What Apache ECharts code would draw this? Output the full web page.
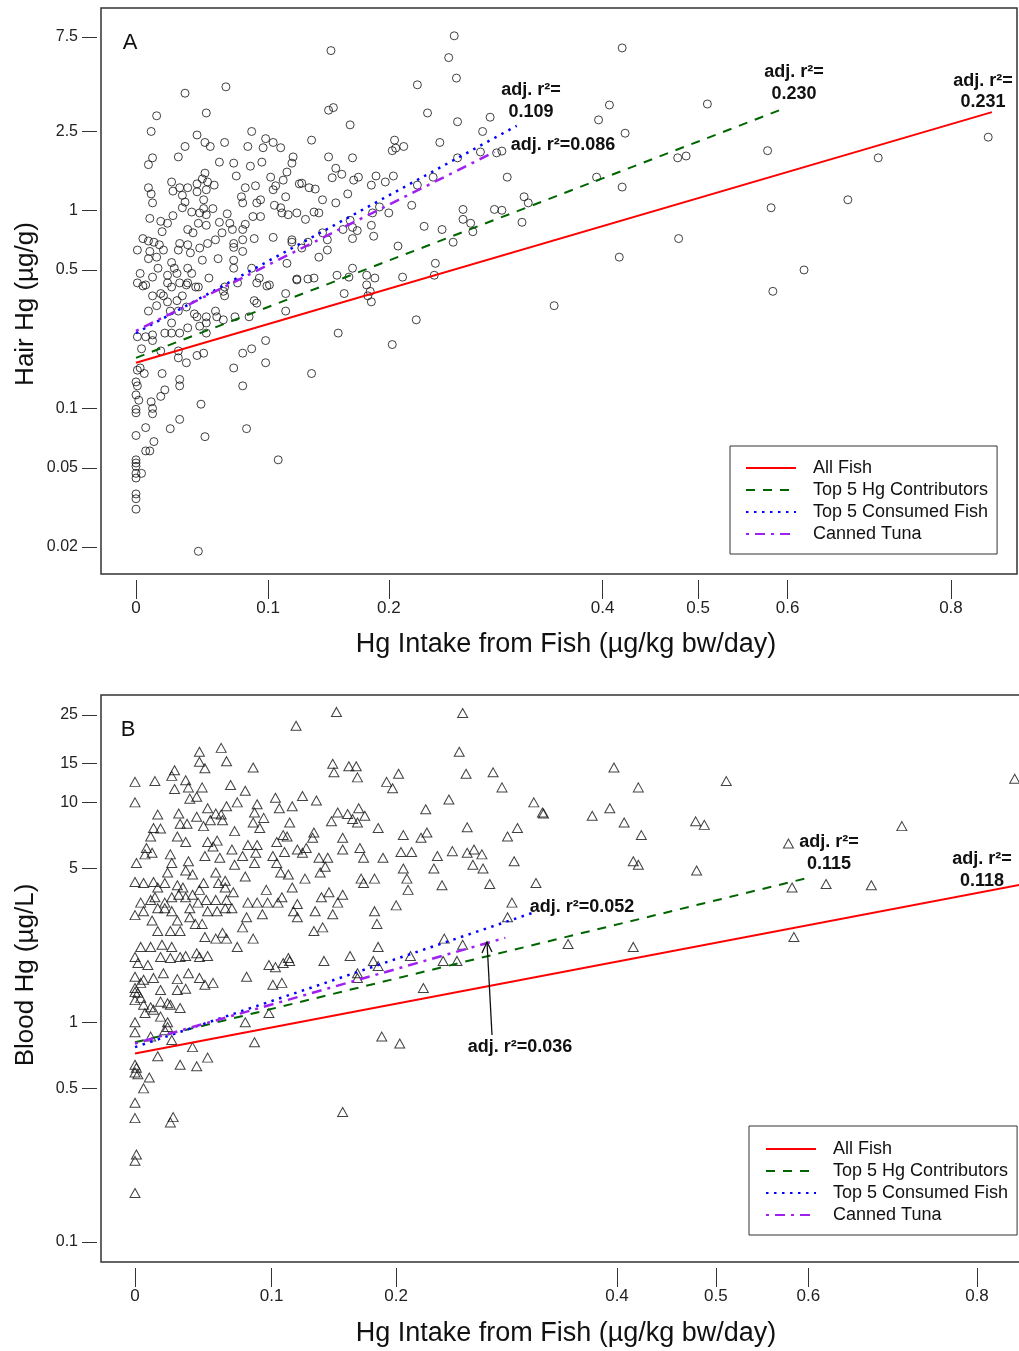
<!DOCTYPE html>
<html>
<head>
<meta charset="utf-8">
<title>Hg intake from fish vs hair and blood Hg</title>
<script src="https://cdn.jsdelivr.net/npm/echarts@6/dist/echarts.min.js"></script>
<style>
  html, body { margin: 0; padding: 0; background: #fff; }
  #chart { width: 1019px; height: 1351px; }
</style>
</head>
<body>
<div id="chart"></div>
<script>
// tick labels
var intakeTicks = [0, 0.1, 0.2, 0.4, 0.5, 0.6, 0.8];
var hairTicks = [0.02, 0.05, 0.1, 0.5, 1, 2.5, 7.5];
var bloodTicks = [0.1, 0.5, 1, 5, 10, 15, 25];

var fitNames = ['All Fish', 'Top 5 Hg Contributors', 'Top 5 Consumed Fish', 'Canned Tuna'];

// panel A: [Hg intake (ug/kg bw/day), hair Hg (ug/g)]
var hairPoints = [
  [0.067,4.2],[0.036,3.9],[0.052,3.1],[0.015,3.0],[0.011,2.5],[0.087,2.5],[0.045,2.4],[0.051,2.2],[0.055,2.1],[0.066,2.2],
  [0.036,2.1],[0.031,1.86],[0.084,2.1],[0.098,2.3],[0.104,2.2],[0.096,2.07],[0.110,2.07],[0.009,1.7],[0.012,1.84],[0.062,1.75],
  [0.073,1.73],[0.075,1.49],[0.086,1.67],[0.095,1.75],[0.120,1.86],[0.119,1.73],[0.115,1.56],[0.102,1.47],[0.051,1.54],[0.049,1.44],
  [0.053,1.39],[0.045,1.36],[0.026,1.39],[0.009,1.30],[0.011,1.21],[0.012,1.09],[0.027,1.25],[0.032,1.30],[0.038,1.30],[0.034,1.19],
  [0.036,1.10],[0.045,1.24],[0.052,1.27],[0.058,1.34],[0.050,1.13],[0.082,1.30],[0.090,1.33],[0.079,1.17],[0.080,1.09],[0.094,1.13],
  [0.091,1.09],[0.104,1.27],[0.106,1.33],[0.112,1.42],[0.114,1.17],[0.105,1.06],[0.110,1.03],[0.125,1.36],[0.010,0.91],[0.018,0.88],
  [0.023,0.86],[0.027,0.94],[0.034,1.03],[0.041,0.98],[0.047,0.97],[0.052,0.95],[0.057,1.02],[0.050,1.02],[0.019,0.78],[0.038,0.80],
  [0.042,0.77],[0.046,0.86],[0.052,0.84],[0.062,0.87],[0.068,0.96],[0.070,0.86],[0.064,0.77],[0.072,0.80],[0.082,0.85],[0.088,0.93],
  [0.094,0.93],[0.080,0.80],[0.111,0.97],[0.116,0.95],[0.104,0.73],[0.119,0.69],[0.005,0.72],[0.009,0.70],[0.013,0.69],[0.017,0.67],
  [0.020,0.63],[0.001,0.63],[0.010,0.62],[0.015,0.58],[0.009,0.57],[0.032,0.68],[0.038,0.67],[0.031,0.63],[0.040,0.61],[0.047,0.645],
  [0.053,0.68],[0.059,0.71],[0.073,0.68],[0.080,0.71],[0.089,0.72],[0.073,0.65],[0.080,0.62],[0.049,0.56],[0.061,0.57],[0.073,0.56],
  [0.073,0.51],[0.026,0.545],[0.016,0.51],[0.028,0.51],[0.038,0.51],[0.003,0.48],[0.012,0.46],[0.023,0.47],[0.030,0.48],[0.041,0.48],
  [0.001,0.43],[0.005,0.415],[0.023,0.43],[0.026,0.41],[0.032,0.43],[0.038,0.43],[0.046,0.41],[0.054,0.455],[0.066,0.41],[0.087,0.51],
  [0.093,0.455],[0.101,0.42],[0.115,0.54],[0.123,0.445],[0.012,0.37],[0.020,0.37],[0.034,0.37],[0.065,0.39],[0.114,0.38],
  [0.007,0.42],[0.018,0.38],[0.037,0.42],[0.044,0.41],[0.015,0.33],[0.023,0.345],[0.030,0.35],[0.009,0.31],[0.025,0.31],[0.026,0.27],
  [0.031,0.31],[0.037,0.325],[0.043,0.30],[0.045,0.29],[0.047,0.26],[0.052,0.29],[0.052,0.27],[0.059,0.31],[0.060,0.29],[0.065,0.28],
  [0.066,0.37],[0.074,0.29],[0.076,0.43],[0.091,0.43],[0.099,0.415],[0.089,0.35],[0.091,0.34],[0.114,0.31],[0.085,0.29],[0.038,0.255],
  [0.052,0.24],[0.001,0.23],[0.007,0.23],[0.012,0.235],[0.012,0.22],[0.021,0.24],[0.026,0.24],[0.032,0.24],[0.004,0.20],[0.018,0.195],
  [0.031,0.195],[0.031,0.18],[0.037,0.17],[0.045,0.185],[0.050,0.19],[0.080,0.19],[0.087,0.20],[0.098,0.22],[0.098,0.17],[0.073,0.16],
  [0.001,0.156],[0.003,0.16],[0.006,0.15],[0.019,0.15],[0,0.136],[0.001,0.13],[0.032,0.14],[0.032,0.13],[0.021,0.124],[0.018,0.115],
  [0,0.117],[0.002,0.11],[0.011,0.108],[0.012,0.10],[0,0.095],[0,0.099],[0.012,0.094],[0.048,0.105],[0.080,0.13],[0.032,0.088],
  [0.007,0.080],[0.025,0.079],[0.083,0.079],[0,0.073],[0.013,0.068],[0.051,0.072],[0.007,0.061],[0.010,0.061],[0,0.055],[0,0.053],
  [0,0.051],[0.004,0.047],[0,0.047],[0.108,0.055],[0,0.0445],[0,0.037],[0,0.035],[0,0.031],[0.046,0.019],
  [0.258,7.6],[0.151,6.4],[0.253,5.9],[0.260,4.65],[0.225,4.3],[0.149,3.2],[0.153,3.3],[0.234,3.1],[0.167,2.7],[0.261,2.8],
  [0.291,2.95],[0.284,2.5],[0.135,2.26],[0.149,1.86],[0.169,1.84],[0.205,2.26],[0.203,2.0],[0.206,2.06],[0.213,2.1],[0.245,2.2],
  [0.261,1.84],[0.282,1.97],[0.297,1.95],[0.302,1.99],[0.155,1.63],[0.152,1.46],[0.160,1.52],[0.174,1.47],[0.170,1.42],[0.189,1.49],
  [0.185,1.34],[0.197,1.39],[0.204,1.49],[0.225,1.34],[0.239,1.47],[0.127,1.37],[0.133,1.30],[0.138,1.28],[0.144,1.13],[0.155,1.09],
  [0.165,1.21],[0.307,1.47],[0.123,0.97],[0.130,0.90],[0.137,0.98],[0.141,0.97],[0.186,0.97],[0.192,1.04],[0.200,0.97],[0.220,1.06],
  [0.266,1.01],[0.295,1.01],[0.302,1.0],[0.323,1.17],[0.327,1.09],[0.321,0.87],[0.167,0.89],[0.169,0.82],[0.173,0.79],[0.185,0.84],
  [0.187,0.74],[0.169,0.72],[0.161,0.80],[0.144,0.77],[0.148,0.71],[0.132,0.69],[0.127,0.645],[0.141,0.58],[0.148,0.63],[0.119,0.71],
  [0.231,0.83],[0.247,0.80],[0.266,0.90],[0.273,0.86],[0.275,0.78],[0.257,0.69],[0.208,0.66],[0.123,0.45],[0.132,0.45],[0.137,0.455],
  [0.156,0.47],[0.169,0.51],[0.166,0.46],[0.181,0.47],[0.188,0.455],[0.181,0.42],[0.184,0.39],[0.185,0.345],[0.182,0.37],[0.162,0.38],
  [0.212,0.46],[0.240,0.47],[0.241,0.54],[0.157,0.24],[0.203,0.21],[0.224,0.28],[0.352,0.33],[0.135,0.15],
  [0.420,6.6],[0.407,3.4],[0.396,2.86],[0.510,3.44],[0.423,2.45],[0.577,2.0],[0.478,1.84],[0.487,1.88],[0.394,1.47],[0.420,1.31],
  [0.849,2.34],[0.708,1.84],[0.671,1.13],[0.581,1.03],[0.479,0.72],[0.417,0.58],[0.619,0.50],[0.583,0.39]
];

// panel B: [Hg intake (ug/kg bw/day), blood Hg (ug/L)]
var bloodPoints = [
  [0.119,22.3],[0.062,17.7],[0.046,17.0],[0.046,15.3],[0.050,14.3],[0.066,15.4],[0.086,14.4],[0.028,14.0],[0.026,13.2],[0,12.4],
  [0.014,12.5],[0.036,12.6],[0.038,11.7],[0.028,11.5],[0.048,11.7],[0.069,12.0],[0.080,11.3],[0.044,10.6],[0.039,10.4],[0,10.0],
  [0.016,8.8],[0.031,8.9],[0.052,9.4],[0.058,8.9],[0.062,8.8],[0.066,9.6],[0.074,10.0],[0.089,9.8],[0.087,9.0],[0.086,8.1],
  [0.094,8.5],[0.103,10.5],[0.106,9.4],[0.116,9.6],[0.114,8.1],[0.013,7.65],[0.018,7.6],[0.032,8.0],[0.037,8.0],[0.044,8.6],
  [0.049,7.8],[0.054,8.3],[0.063,8.3],[0.072,7.4],[0.091,7.65],[0.109,7.1],[0.011,7.0],[0.030,7.0],[0.036,6.6],[0.052,6.6],
  [0.059,6.7],[0.056,6.3],[0.070,6.1],[0.082,6.4],[0.089,6.4],[0.104,6.6],[0.112,7.0],[0.008,6.2],[0.007,5.8],[0.012,5.9],
  [0.025,5.8],[0.001,5.3],[0.026,5.3],[0.038,5.4],[0.050,5.7],[0.061,5.6],[0.078,5.7],[0.088,5.9],[0.101,5.7],[0.110,5.95],
  [0.120,6.1],[0.072,5.2],[0.087,5.3],[0.023,4.8],[0.036,4.9],[0.041,4.7],[0.049,4.3],[0.058,4.8],[0.060,4.3],[0.065,4.4],
  [0.080,4.6],[0.104,5.3],[0.107,4.8],[0.113,4.7],[0.116,4.1],[0,4.34],[0.006,4.3],[0.013,4.34],[0.016,4.1],[0.021,4.3],
  [0.030,4.2],[0.034,4.1],[0.046,4.0],[0.065,4.1],[0.096,4.0],[0.108,3.7],[0.004,3.5],[0.011,3.6],[0.014,3.7],[0.021,3.5],
  [0.026,3.7],[0.031,3.8],[0.036,3.7],[0.041,3.8],[0.045,3.5],[0.051,3.6],[0.058,3.6],[0.066,3.6],[0.071,3.9],[0.082,3.5],
  [0.089,3.5],[0.097,3.5],[0.105,3.5],[0.117,3.2],[0,3.07],[0.006,3.2],[0.012,2.9],[0.016,3.3],[0.021,3.3],[0.026,3.2],
  [0.030,2.9],[0.039,3.3],[0.039,3.0],[0.043,2.8],[0.048,2.8],[0.052,3.2],[0.059,3.2],[0.065,3.3],[0.070,3.3],[0.081,3.0],
  [0.093,3.1],[0.078,2.7],[0.120,3.0],[0.016,2.6],[0.025,2.6],[0.032,2.6],[0.050,2.44],[0.058,2.4],[0.063,2.55],[0.066,2.4],
  [0.074,2.2],[0.086,2.4],[0.004,2.2],[0.011,2.2],[0.019,2.25],[0.026,2.2],[0.036,2.0],[0.044,2.06],[0.046,1.98],[0,1.98],
  [0.002,1.86],[0.009,1.82],[0.018,1.98],[0.025,1.96],[0.032,1.98],[0.052,2.0],[0.098,1.82],[0.103,1.78],[0.109,1.86],[0.113,1.96],
  [0,1.61],[0.006,1.56],[0.013,1.59],[0.020,1.67],[0.030,1.57],[0.038,1.67],[0.046,1.59],[0.056,1.51],[0.050,1.48],[0.081,1.61],
  [0.101,1.48],[0.108,1.51],[0,1.43],[0.002,1.36],[0.018,1.40],[0.030,1.40],[0.036,1.42],
  [0.004,1.51],[0,1.37],[0,1.26],[0.004,1.29],[0.006,1.20],[0.011,1.17],[0.007,1.10],[0.013,1.14],[0.018,1.24],[0.023,1.22],
  [0.025,1.20],[0.032,1.16],[0.018,1.06],[0.023,1.0],[0.023,0.95],[0.021,0.92],[0,1.0],[0,0.90],[0.011,0.86],[0.026,0.83],
  [0.041,0.77],[0.016,0.70],[0.032,0.64],[0.044,0.63],[0.052,0.69],[0.080,1.0],[0.087,0.81],[0.098,1.10],[0,0.64],[0.001,0.62],
  [0,0.59],[0.002,0.58],[0.010,0.56],[0.006,0.50],[0,0.43],[0,0.366],[0.027,0.37],[0.025,0.35],[0.001,0.25],[0,0.234],[0,0.167],
  [0.151,25.8],[0.257,25.5],[0.254,17.0],[0.148,15.0],[0.149,13.7],[0.161,14.6],[0.167,14.6],[0.168,13.0],[0.202,13.5],[0.192,12.4],
  [0.197,11.6],[0.260,13.5],[0.284,13.7],[0.292,11.7],[0.124,10.7],[0.135,10.2],[0.245,10.3],[0.225,9.3],[0.321,10.0],[0.329,9.0],
  [0.152,9.0],[0.160,8.85],[0.169,9.4],[0.164,8.4],[0.168,8.1],[0.174,8.7],[0.147,8.2],[0.185,7.65],[0.261,7.7],[0.206,7.1],
  [0.221,6.9],[0.226,7.3],[0.297,7.0],[0.306,7.65],[0.133,7.3],[0.132,6.9],[0.156,6.9],[0.156,6.1],[0.127,6.2],[0.124,5.9],
  [0.170,6.2],[0.173,5.6],[0.137,5.6],[0.144,5.6],[0.189,5.6],[0.204,5.95],[0.213,5.95],[0.235,5.7],[0.248,6.0],[0.261,5.9],
  [0.267,6.1],[0.274,5.8],[0.206,5.0],[0.232,5.0],[0.266,5.2],[0.275,5.0],[0.303,5.4],[0.142,5.1],[0.138,4.8],[0.126,4.5],
  [0.171,4.5],[0.173,4.3],[0.182,4.5],[0.209,4.5],[0.210,4.0],[0.239,4.2],[0.281,4.25],[0.323,4.3],[0.145,3.9],[0.156,3.8],
  [0.152,3.5],[0.139,3.7],[0.120,3.45],[0.134,3.2],[0.148,3.1],[0.182,3.2],[0.184,2.8],[0.200,3.4],[0.301,3.5],[0.297,3.0],
  [0.140,2.7],[0.133,2.6],[0.185,2.2],[0.241,2.4],[0.257,2.25],[0.162,2.0],[0.141,1.9],[0.181,1.9],[0.185,1.8],[0.212,2.0],
  [0.240,1.9],[0.252,1.9],[0.168,1.67],[0.168,1.59],[0.223,1.43],[0.114,1.9],[0.188,0.86],[0.203,0.80],[0.156,0.39],
  [0.397,14.4],[0.421,11.7],[0.511,12.5],[0.848,12.8],[0.330,8.9],[0.376,8.7],[0.393,9.4],[0.407,8.1],[0.424,7.1],[0.479,8.2],
  [0.488,7.9],[0.708,7.8],[0.578,6.5],[0.416,5.4],[0.421,5.2],[0.480,4.9],[0.582,4.1],[0.620,4.25],[0.672,4.2],[0.353,2.27],
  [0.416,2.2],[0.584,2.44]
];

// regression lines, end points [intake, Hg]
var hairAllFish = [[0, 0.17], [0.854, 3.13]];
var hairTopHg = [[0, 0.18], [0.597, 3.28]];
var hairTopConsumed = [[0, 0.24], [0.316, 2.67]];
var hairTuna = [[0, 0.246], [0.295, 1.97]];

var bloodAllFish = [[0, 0.72], [0.854, 4.21]];
var bloodTopHg = [[0, 0.81], [0.599, 4.53]];
var bloodTopConsumed = [[0, 0.77], [0.322, 3.17]];
var bloodTuna = [[0, 0.80], [0.295, 2.42]];

var font = "'Liberation Sans', Arial, sans-serif";

// x axis drawn on ln(1 + intake), y axes on log10
function tx(v) { return Math.log1p(v); }
function ty(v) { return Math.log10(v); }
function toPlot(p) { return [tx(p[0]), ty(p[1])]; }

function tickFormatter(ticks, f) {
    return function (v) {
        for (var i = 0; i < ticks.length; i++) {
            if (Math.abs(f(ticks[i]) - v) < 1e-6) return String(ticks[i]);
        }
        return '';
    };
}

function intakeAxis(gridIndex, min, max) {
    var vals = intakeTicks.map(tx);
    return {
        type: 'value', gridIndex: gridIndex, min: min, max: max, position: 'bottom', offset: 6,
        splitLine: { show: false },
        axisLine: { show: false, onZero: false },
        axisTick: { show: true, length: 19, customValues: vals, lineStyle: { color: '#333', width: 1 } },
        axisLabel: { customValues: vals, formatter: tickFormatter(intakeTicks, tx), margin: 20,
            fontSize: 17, color: '#222', fontFamily: font }
    };
}

function hgAxis(gridIndex, min, max, ticks) {
    var vals = ticks.map(ty);
    return {
        type: 'value', gridIndex: gridIndex, min: min, max: max, position: 'left', offset: 4,
        splitLine: { show: false },
        axisLine: { show: false, onZero: false },
        axisTick: { show: true, length: 15, customValues: vals, lineStyle: { color: '#333', width: 1 } },
        axisLabel: { customValues: vals, formatter: tickFormatter(ticks, ty), margin: 19,
            fontSize: 16, color: '#222', fontFamily: font }
    };
}

function pointSeries(name, idx, pts, symbol, size) {
    return {
        type: 'scatter', name: name, xAxisIndex: idx, yAxisIndex: idx,
        data: pts.map(toPlot), symbol: symbol, symbolSize: size,
        itemStyle: { color: 'rgba(0,0,0,0)', borderColor: '#111', borderWidth: 1 },
        silent: true, z: 2
    };
}

function fitSeries(name, idx, pts, color, dash, width) {
    return {
        type: 'line', name: name, xAxisIndex: idx, yAxisIndex: idx,
        data: pts.map(toPlot), symbol: 'none',
        lineStyle: { color: color, type: dash, width: width },
        itemStyle: { color: color },
        silent: true, z: 3
    };
}

function fitLegend(left, top, pad) {
    return {
        data: fitNames, orient: 'vertical', left: left, top: top, padding: pad,
        itemGap: 0, itemWidth: 50, itemHeight: 14, selectedMode: false,
        backgroundColor: '#fff', borderColor: '#333', borderWidth: 1, borderRadius: 0,
        itemStyle: { opacity: 0 },
        textStyle: { fontSize: 18, color: '#111', fontFamily: font, lineHeight: 22, padding: [0, 0, 0, 12] }
    };
}

function label(text, x, y, size, bold) {
    return {
        type: 'text', x: x, y: y, z: 10,
        style: { text: text, font: (bold ? 'bold ' : '') + size + 'px ' + font, fill: '#111',
            align: 'center', verticalAlign: 'middle' }
    };
}

var chart = echarts.init(document.getElementById('chart'));

var option = {
    animation: false,
    backgroundColor: '#fff',
    grid: [
        { left: 101, top: 8, width: 916, height: 566, show: true, borderColor: '#333', borderWidth: 1.5,
          backgroundColor: 'rgba(0,0,0,0)', outerBoundsMode: 'none' },
        { left: 101, top: 695, width: 946, height: 567, show: true, borderColor: '#333', borderWidth: 1.5,
          backgroundColor: 'rgba(0,0,0,0)', outerBoundsMode: 'none' }
    ],
    xAxis: [
        intakeAxis(0, -0.025244, 0.635413),
        intakeAxis(1, -0.023735, 0.636649)
    ],
    yAxis: [
        hgAxis(0, -1.8359, 1.0212, hairTicks),
        hgAxis(1, -1.0910, 1.4886, bloodTicks)
    ],
    legend: [
        fitLegend(730, 446, [11, 9, 9, 15]),
        fitLegend(749, 1126, [12, 9, 9, 16])
    ],
    series: [
        pointSeries('Hair Hg', 0, hairPoints, 'circle', 8),
        fitSeries('All Fish', 0, hairAllFish, '#ff0000', 'solid', 2),
        fitSeries('Top 5 Hg Contributors', 0, hairTopHg, '#006400', [9, 8], 2),
        fitSeries('Top 5 Consumed Fish', 0, hairTopConsumed, '#0000ff', [2.5, 5.5], 2.5),
        fitSeries('Canned Tuna', 0, hairTuna, '#a020f0', [3, 6, 10, 6], 2.5),

        pointSeries('Blood Hg', 1, bloodPoints, 'triangle', [10, 9]),
        fitSeries('All Fish', 1, bloodAllFish, '#ff0000', 'solid', 2),
        fitSeries('Top 5 Hg Contributors', 1, bloodTopHg, '#006400', [9, 8], 2),
        fitSeries('Top 5 Consumed Fish', 1, bloodTopConsumed, '#0000ff', [2.5, 5.5], 2.5),
        fitSeries('Canned Tuna', 1, bloodTuna, '#a020f0', [3, 6, 10, 6], 2.5)
    ],
    graphic: [
        label('A', 130, 43, 22, false),
        label('B', 128, 730, 22, false),
        label('adj. r\u00b2=', 531, 90, 18, true),
        label('0.109', 531, 112, 18, true),
        label('adj. r\u00b2=0.086', 563, 145, 18, true),
        label('adj. r\u00b2=', 794, 72, 18, true),
        label('0.230', 794, 94, 18, true),
        label('adj. r\u00b2=', 983, 81, 18, true),
        label('0.231', 983, 102, 18, true),
        label('adj. r\u00b2=0.052', 582, 907, 18, true),
        label('adj. r\u00b2=', 829, 842, 18, true),
        label('0.115', 829, 864, 18, true),
        label('adj. r\u00b2=', 982, 859, 18, true),
        label('0.118', 982, 881, 18, true),
        label('adj. r\u00b2=0.036', 520, 1047, 18, true),
        { type: 'line', z: 10, shape: { x1: 492, y1: 1035, x2: 487, y2: 942 },
          style: { stroke: '#111', lineWidth: 1.3 } },
        { type: 'polyline', z: 10, shape: { points: [[482, 953], [487, 942], [492, 952]] },
          style: { stroke: '#111', fill: null, lineWidth: 1.3 } },
        label('Hg Intake from Fish (\u00b5g/kg bw/day)', 566, 645, 27, false),
        label('Hg Intake from Fish (\u00b5g/kg bw/day)', 566, 1334, 27, false),
        { type: 'text', x: 26, y: 304, rotation: Math.PI / 2, z: 10,
          style: { text: 'Hair Hg (\u00b5g/g)', font: '26px ' + font, fill: '#111', align: 'center', verticalAlign: 'middle' } },
        { type: 'text', x: 26, y: 975, rotation: Math.PI / 2, z: 10,
          style: { text: 'Blood Hg (\u00b5g/L)', font: '26px ' + font, fill: '#111', align: 'center', verticalAlign: 'middle' } }
    ]
};

chart.setOption(option);
window.onresize = chart.resize;
</script>
</body>
</html>
